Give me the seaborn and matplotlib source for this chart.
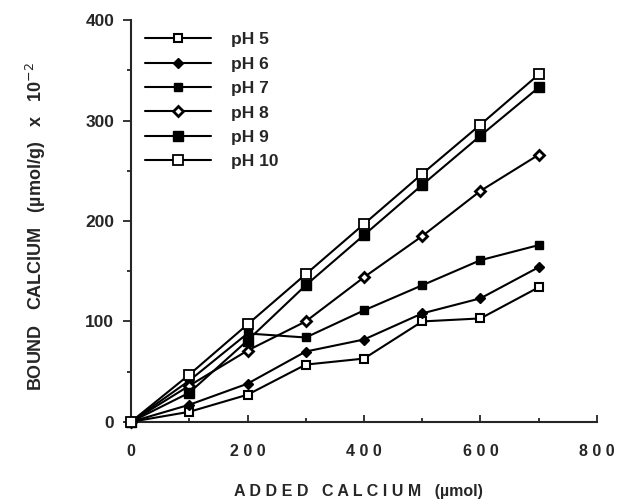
import pandas as pd
import seaborn as sns
import matplotlib.pyplot as plt
from matplotlib.ticker import MultipleLocator

# data
added_ca = [0, 100, 200, 300, 400, 500, 600, 700]
ph5 = [0, 10, 27, 57, 63, 100, 103, 134]
ph6 = [0, 17, 38, 70, 82, 108, 123, 154]
ph7 = [0, 41, 88, 84, 111, 136, 161, 176]
ph8 = [0, 36, 71, 100, 144, 185, 230, 266]
ph9 = [0, 29, 81, 136, 186, 236, 285, 333]
ph10 = [0, 47, 97, 147, 197, 247, 296, 346]
labels = ['pH 5', 'pH 6', 'pH 7', 'pH 8', 'pH 9', 'pH 10']
x_ticks = [0, 200, 400, 600, 800]
x_ticklabels = ['0', '2 0 0', '4 0 0', '6 0 0', '8 0 0']
y_ticks = [0, 100, 200, 300, 400]
y_ticklabels = ['0', '100', '200', '300', '400']

series = [ph5, ph6, ph7, ph8, ph9, ph10]
rows = []
for lab, vals in zip(labels, series):
    for x, y in zip(added_ca, vals):
        rows.append({'added': x, 'bound': y, 'pH': lab})
df = pd.DataFrame(rows)

# marker style per series (shape, face colour, size)
marker_style = {
    'pH 5': dict(marker='s', mfc='white', ms=6, mew=1.5),
    'pH 6': dict(marker='D', mfc='black', ms=5, mew=1),
    'pH 7': dict(marker='s', mfc='black', ms=6, mew=1),
    'pH 8': dict(marker='D', mfc='white', ms=5, mew=2),
    'pH 9': dict(marker='s', mfc='black', ms=7, mew=1),
    'pH 10': dict(marker='s', mfc='white', ms=7, mew=1.3),
}

sns.set_style('ticks')
plt.rcParams['font.family'] = ['Liberation Sans', 'DejaVu Sans']

fig = plt.figure(figsize=(6.18, 5.04), dpi=100)
ax = fig.add_axes([0.212, 0.163, 0.754, 0.797])

for lab in labels:
    sub = df[df['pH'] == lab]
    sns.lineplot(data=sub, x='added', y='bound', ax=ax, color='black',
                 linewidth=1.5, label=lab, mec='black', clip_on=False,
                 zorder=3, **marker_style[lab])

ax.set_xlim(0, 800)
ax.set_ylim(0, 400)
ax.set_xticks(x_ticks, x_ticklabels, fontweight='bold', fontsize=11.5)
ax.set_yticks(y_ticks, y_ticklabels, fontweight='bold', fontsize=12.5)
ax.xaxis.set_minor_locator(MultipleLocator(100))
ax.yaxis.set_minor_locator(MultipleLocator(50))
ax.tick_params(axis='x', which='both', direction='in', length=5, width=1.3,
               pad=16)
ax.tick_params(axis='x', which='minor', length=3)
ax.tick_params(axis='y', which='both', direction='out', length=6, width=1.3,
               pad=6)
ax.tick_params(axis='y', which='minor', length=3)

sns.despine(ax=ax)
ax.spines['left'].set_linewidth(1.5)
ax.spines['bottom'].set_linewidth(1.5)

ax.set_xlabel('A D D E D   C A L C I U M   (µmol)', fontsize=11.5,
              fontweight='bold')
ax.xaxis.set_label_coords(0.487, -0.155)
ax.set_ylabel(r'BOUND   CALCIUM   (µmol/g)   x   10$^{-2}$', fontsize=13,
              fontweight='bold')
ax.yaxis.set_label_coords(-0.178, 0.485)

leg = ax.legend(loc='upper left', bbox_to_anchor=(0.005, 1.0), frameon=False,
                fontsize=12.5, handlelength=3.75, handletextpad=1.2,
                labelspacing=0.53, borderaxespad=0.3)
for t in leg.get_texts():
    t.set_fontweight('bold')

fig.savefig('out.png', dpi=100)
